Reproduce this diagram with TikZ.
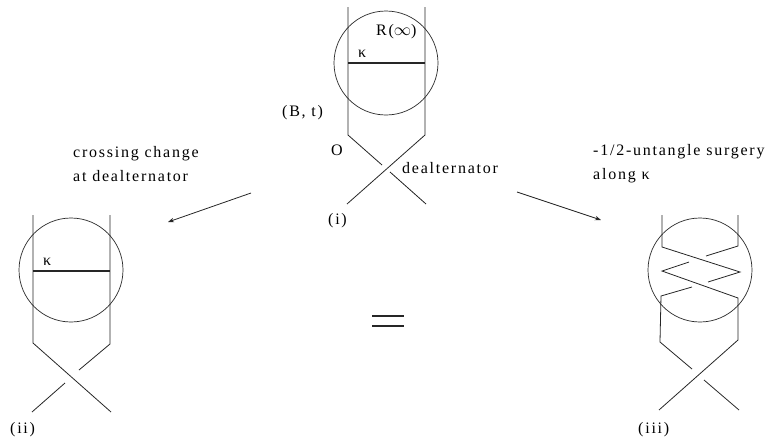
\documentclass[tikz,border=0pt]{standalone}
\usepackage{fontspec}
\setmainfont{Liberation Serif}[LetterSpace=11]
\usetikzlibrary{arrows.meta}
\begin{document}
\begin{tikzpicture}[x=1pt, y=-1pt, strand/.style={black!85, line width=0.8pt}, band/.style={black!85, line width=1.6pt}, ball/.style={black!85, line width=0.7pt}, lab/.style={inner sep=0pt, font=\fontsize{16}{24}\selectfont, align=left, anchor=west}]
  \useasboundingbox (0, 0) rectangle (777, 445);

  % tangle (i)
  \draw[ball] (386, 63) circle (52);
  \draw[strand] (348, 7) -- (348, 135) -- (382, 165);
  \draw[strand] (425, 7) -- (425, 135) -- (347, 204);
  \draw[strand] (390, 172) -- (426, 204);
  \draw[band] (348, 63) -- (425, 63);
  \node[lab] at (358, 54) (kappaone) {κ};
  \node[lab] at (376, 32) (rinf) {R($\infty$)};
  \node[lab] at (282, 113) (bt) {(B, t)};
  \node[lab] at (331, 150) (oo) {O};
  \node[lab] at (402, 168) (dealt) {dealternator};
  \node[lab] at (328, 221) (ione) {(i)};

  % tangle (ii)
  \draw[ball] (71, 270) circle (52);
  \draw[strand] (33, 215) -- (33, 343) -- (111, 412);
  \draw[strand] (110, 215) -- (110, 344) -- (79, 370);
  \draw[strand] (65, 383) -- (32, 412);
  \draw[band] (33, 271) -- (110, 271);
  \node[lab] at (43, 262) (kappatwo) {κ};
  \node[lab] at (10, 430) (itwo) {(ii)};

  % tangle (iii)
  \draw[ball] (700, 270) circle (52);
  \draw[strand] (662, 215) -- (662, 247) -- (740, 272) -- (708, 282);
  \draw[strand] (738, 215) -- (738, 246) -- (706, 256);
  \draw[strand] (689, 262) -- (662, 271) -- (738, 298) -- (738, 340) -- (659, 410);
  \draw[strand] (692, 287) -- (661, 296) -- (660, 342) -- (692, 369);
  \draw[strand] (704, 380) -- (739, 410);
  \node[lab] at (638, 430) (ithree) {(iii)};

  % captions
  \node[lab] at (73, 164) (capleft) {crossing change\\at dealternator};
  \node[lab] at (593, 164) (capright) {-1/2-untangle surgery\\along κ};

  % arrows
  \coordinate (leftstart) at (251, 193);
  \coordinate (leftend) at (168, 222);
  \coordinate (rightstart) at (517, 192);
  \coordinate (rightend) at (601, 220);
  \draw[-{Stealth[length=6pt, width=4.5pt]}, strand] (leftstart) -- (leftend);
  \draw[-{Stealth[length=6pt, width=4.5pt]}, strand] (rightstart) -- (rightend);

  % equal sign
  \draw[strand, line width=1.8pt] (372, 316) -- (404, 316);
  \draw[strand, line width=1.8pt] (372, 326) -- (404, 326);
\end{tikzpicture}
\end{document}
